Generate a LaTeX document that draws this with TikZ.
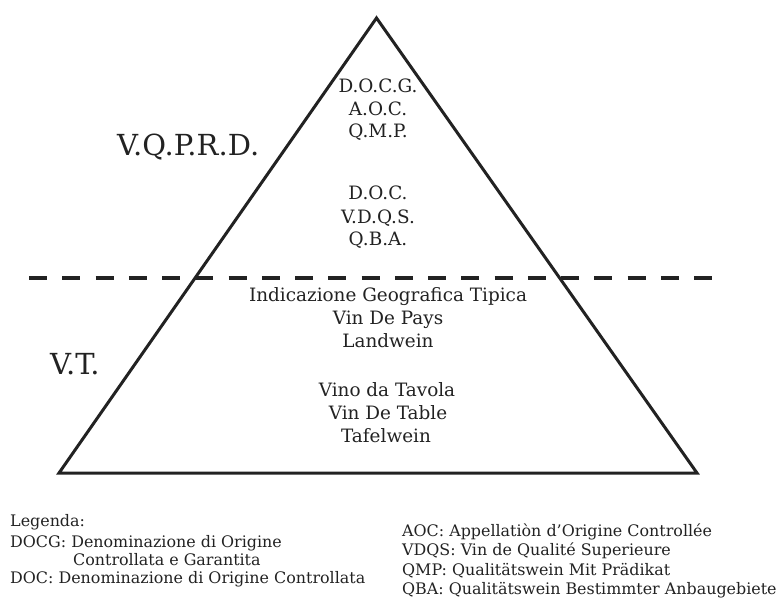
\documentclass[tikz,border=0pt]{standalone}
\usepackage{fontspec}
\setmainfont{DejaVu Serif}
\definecolor{ink}{HTML}{222222}
\tikzset{
  level/.style={anchor=base, font=\fontsize{18.4}{22}\selectfont, text=ink, inner sep=0pt},
  class/.style={anchor=base west, font=\fontsize{29}{33}\selectfont, text=ink, inner sep=0pt},
  legend/.style={anchor=base west, font=\fontsize{15.9}{19}\selectfont, text=ink, inner sep=0pt},
}
\begin{document}
\begin{tikzpicture}[x=1pt, y=-1pt]

    \useasboundingbox (0,0) rectangle (776,599);

    % piramide
    \coordinate (apex)  at (376.5, 18);
    \coordinate (left)  at ( 59, 473);
    \coordinate (right) at (697, 473);
    \draw [ink, line width=3pt, line join=miter] (apex) -- (right) -- (left) -- cycle;

    \coordinate (cutL) at ( 29, 278);
    \coordinate (cutR) at (712, 278);
    \draw [ink, line width=3.5pt, dash pattern=on 18pt off 15.25pt] (cutL) -- (cutR);

    \node [class] (vqprd) at (117, 156) {V.Q.P.R.D.};
    \node [class] (vt)    at ( 50, 374) {V.T.};

    \node [level] (docg) at (378,  93) {D.O.C.G.};
    \node [level] (aoc)  at (378, 116) {A.O.C.};
    \node [level] (qmp)  at (378, 138) {Q.M.P.};

    \node [level] (doc)  at (378, 199) {D.O.C.};
    \node [level] (vdqs) at (378, 223) {V.D.Q.S.};
    \node [level] (qba)  at (378, 245) {Q.B.A.};

    \node [level] (igt)  at (388, 301) {Indicazione Geografica Tipica};
    \node [level] (vdp)  at (388, 324) {Vin De Pays};
    \node [level] (lw)   at (388, 347) {Landwein};

    \node [level] (vdt)  at (387, 396) {Vino da Tavola};
    \node [level] (vdtb) at (388, 419) {Vin De Table};
    \node [level] (tw)   at (386, 442) {Tafelwein};

    % legenda
    \node [legend] (leg)    at ( 10, 526) {Legenda:};
    \node [legend] (ldocg)  at ( 10, 547) {DOCG: Denominazione di Origine};
    \node [legend] (ldocg2) at ( 73, 565) {Controllata e Garantita};
    \node [legend] (ldoc)   at ( 10, 583) {DOC: Denominazione di Origine Controllata};

    \node [legend] (laoc)  at (402, 536) {AOC: Appellatiòn d’Origine Controllée};
    \node [legend] (lvdqs) at (402, 555.5) {VDQS: Vin de Qualité Superieure};
    \node [legend] (lqmp)  at (402, 575) {QMP: Qualitätswein Mit Prädikat};
    \node [legend] (lqba)  at (402, 594.5) {QBA: Qualitätswein Bestimmter Anbaugebiete};

\end{tikzpicture}
\end{document}
